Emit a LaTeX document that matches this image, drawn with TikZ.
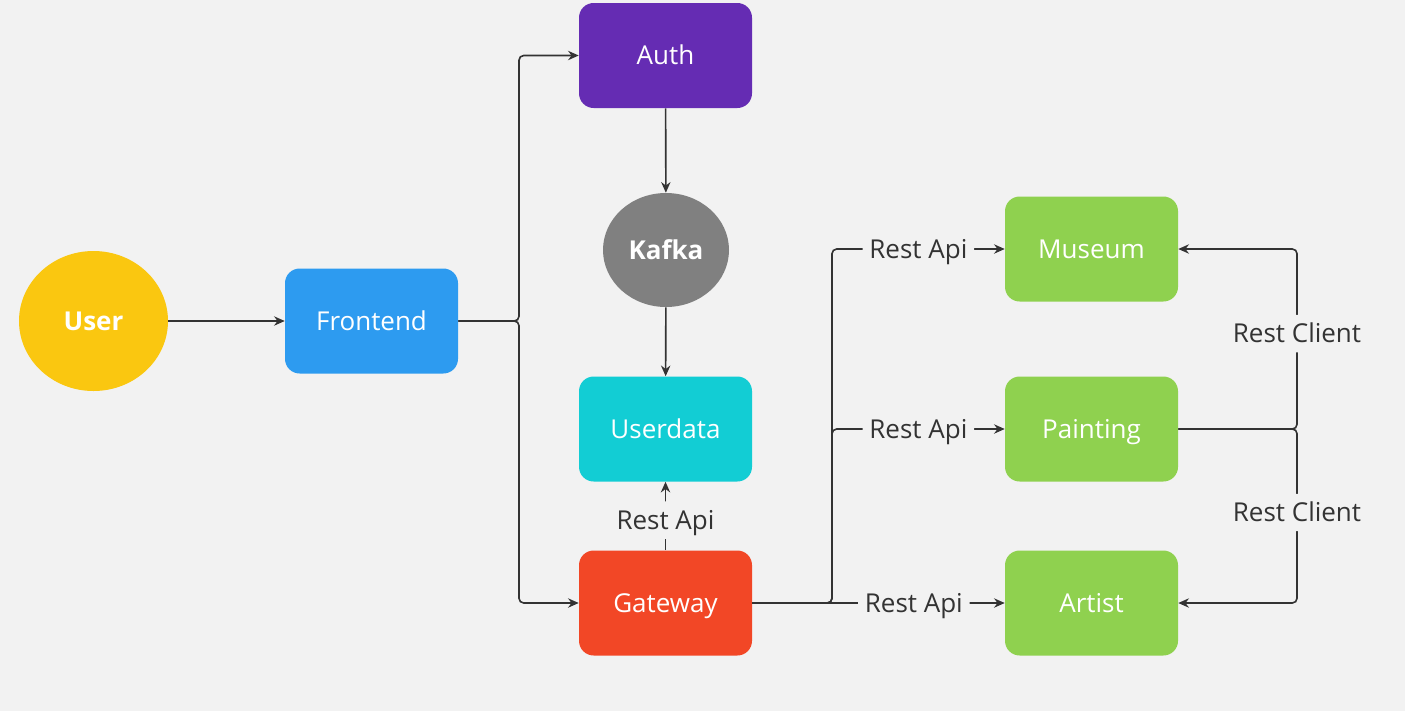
\documentclass[tikz,border=0pt]{standalone}
\usepackage{fontspec}
\setmainfont{Open Sans}
\usetikzlibrary{arrows.meta,shapes.geometric}
\definecolor{bg}{HTML}{F2F2F2}
\definecolor{cuser}{HTML}{FAC710}
\definecolor{cfront}{HTML}{2D9BF0}
\definecolor{cauth}{HTML}{652CB3}
\definecolor{ckafka}{HTML}{808080}
\definecolor{cudata}{HTML}{12CDD4}
\definecolor{cgate}{HTML}{F24726}
\definecolor{cgreen}{HTML}{8FD14F}
\definecolor{cline}{HTML}{333333}
\tikzset{
  box/.style={rectangle, rounded corners=11pt, minimum width=129.75pt, minimum height=78.75pt, text=white, font=\fontsize{19.5pt}{23pt}\selectfont, inner sep=0pt, text height=18pt, text depth=4pt},
  oval/.style={ellipse, text=white, font=\fontsize{19.5pt}{23pt}\selectfont\bfseries, inner sep=0pt, text height=18pt, text depth=4pt},
  conn/.style={draw=cline, line width=1.2pt, rounded corners=3.5pt, -{Stealth[length=8pt,width=7pt]}},
  lbl/.style={fill=bg, text=cline, font=\fontsize{19.5pt}{23pt}\selectfont, inner xsep=5pt, inner ysep=3pt, text height=18pt, text depth=4pt},
}
\begin{document}
\begin{tikzpicture}[x=0.75pt,y=-0.75pt]
\fill[bg] (0,0) rectangle (1405,711);
\useasboundingbox (0,0) rectangle (1405,711);
% nodes
\node[oval, fill=cuser, minimum width=111.75pt, minimum height=105pt] (user) at (93.5,321) {User};
\node[box, fill=cfront] (front) at (371.5,321) {Frontend};
\node[box, fill=cauth] (auth) at (665.5,55.5) {Auth};
\node[oval, fill=ckafka, minimum width=94.5pt, minimum height=85.5pt] (kafka) at (666,250) {Kafka};
\node[box, fill=cudata] (udata) at (665.5,429) {Userdata};
\node[box, fill=cgate] (gate) at (665.5,603) {Gateway};
\node[box, fill=cgreen] (museum) at (1091.5,249) {Museum};
\node[box, fill=cgreen] (paint) at (1091.5,429) {Painting};
\node[box, fill=cgreen] (artist) at (1091.5,603) {Artist};
% branch coordinates
\coordinate (fx) at (519,0);
\coordinate (gx) at (832,0);
\coordinate (px) at (1297,0);
% connectors
\draw[conn] (user) -- (front);
\draw[conn] (front.east) -- (front.east -| fx) -- (auth.west -| fx) -- (auth.west);
\draw[conn] (front.east) -- (front.east -| fx) -- (gate.west -| fx) -- (gate.west);
\draw[conn] (auth) -- (kafka);
\draw[conn] (kafka) -- (udata);
\draw[conn] (gate) -- node[lbl, pos=0.44]{Rest Api} (udata);
\draw[conn] (gate.east) -- (gate.east -| gx) -- (museum.west -| gx) -- node[lbl]{Rest Api} (museum.west);
\draw[conn] (gate.east) -- (gate.east -| gx) -- (paint.west -| gx) -- node[lbl]{Rest Api} (paint.west);
\draw[conn] (gate.east) -- node[lbl, pos=0.64]{Rest Api} (artist.west);
\draw[conn] (paint.east) -- (paint.east -| px) -- node[lbl, pos=0.53]{Rest Client} (museum.east -| px) -- (museum.east);
\draw[conn] (paint.east) -- (paint.east -| px) -- node[lbl, pos=0.48]{Rest Client} (artist.east -| px) -- (artist.east);
\end{tikzpicture}
\end{document}
